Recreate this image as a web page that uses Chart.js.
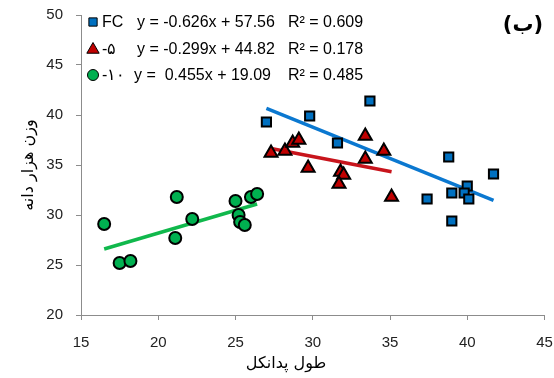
<!DOCTYPE html>
<html>
<head>
<meta charset="utf-8">
<script src="https://cdn.jsdelivr.net/npm/chart.js@4.4.1/dist/chart.umd.min.js"></script>
<style>
    html, body { margin: 0; padding: 0; background: #fff; }
    #wrap { width: 554px; height: 378px; position: relative; }
</style>
</head>
<body>
<div id="wrap"><canvas id="scatterChart"></canvas></div>
<script>
// data
const seriesNames = ['FC', '-۵', '-۱۰']
const fcX = [27.0, 29.8, 33.7, 31.6, 38.8, 41.7, 37.4, 39.0, 40.0, 39.8, 40.1, 39.0]
const fcY = [39.3, 39.9, 41.4, 37.2, 35.8, 34.1, 31.6, 32.2, 32.9, 32.2, 31.6, 29.4]
const d5X = [27.3, 28.2, 28.7, 29.1, 29.7, 31.8, 32.0, 31.7, 33.4, 33.4, 34.6, 35.1]
const d5Y = [36.2, 36.4, 37.2, 37.5, 34.7, 34.3, 34.0, 33.1, 37.9, 35.6, 36.4, 31.8]
const d10X = [16.5, 17.5, 18.2, 21.2, 21.1, 22.2, 25.0, 25.2, 25.3, 25.6, 26.0, 26.4]
const d10Y = [29.1, 25.2, 25.4, 31.8, 27.7, 29.6, 31.4, 30.0, 29.3, 29.0, 31.8, 32.1]
const slopes = [-0.626, -0.299, 0.455]
const intercepts = [57.56, 44.82, 19.09]
const r2 = ['0.609', '0.178', '0.485']
const xTicks = [15, 20, 25, 30, 35, 40, 45]
const yTicks = [20, 25, 30, 35, 40, 45, 50]

const xTitle = 'طول پدانکل'
const yTitle = 'وزن هزار دانه'
const panelLabel = '(ب)'

;(function () {
    const fills = ['#0070C0', '#C00000', '#00B050']
    const lineColors = ['#0B78D0', '#C8141C', '#10B84C']
    const styles = ['rect', 'triangle', 'circle']
    const radii = [6.5, 7.5, 6]
    const xs = [fcX, d5X, d10X]
    const ys = [fcY, d5Y, d10Y]

    const pts = (a, b) => a.map((v, i) => ({ x: v, y: b[i] }))

    function trend(i) {
        const lo = Math.min(...xs[i])
        const hi = Math.max(...xs[i])
        return [lo, hi].map((x) => ({ x: x, y: slopes[i] * x + intercepts[i] }))
    }

    const datasets = []
    // trend lines first so markers sit on top
    for (let i = 0; i < 3; i++) {
        datasets.push({
            type: 'line',
            label: 'trend' + i,
            data: trend(i),
            borderColor: lineColors[i],
            borderWidth: 3.5,
            pointRadius: 0,
            fill: false,
            order: 2
        })
    }
    for (let i = 0; i < 3; i++) {
        datasets.push({
            label: seriesNames[i],
            data: pts(xs[i], ys[i]),
            pointStyle: styles[i],
            pointRadius: radii[i],
            pointBackgroundColor: fills[i],
            pointBorderColor: '#000',
            pointBorderWidth: 2,
            order: 1
        })
    }

    function drawMarker(ctx, style, x, y, r) {
        if (style === 'rect') {
            const h = r * 0.75
            ctx.rect(x - h, y - h, 2 * h, 2 * h)
        } else if (style === 'triangle') {
            ctx.moveTo(x, y - r)
            ctx.lineTo(x + r * 0.95, y + r * 0.65)
            ctx.lineTo(x - r * 0.95, y + r * 0.65)
            ctx.closePath()
        } else {
            ctx.arc(x, y, r, 0, Math.PI * 2)
        }
    }

    // legend box, panel label and axis titles drawn on the canvas
    const extras = {
        id: 'extras',
        afterDraw(chart) {
            const ctx = chart.ctx
            const rows = [22, 49, 75]
            const mSize = [5.5, 6.5, 5.5]
            ctx.save()
            for (let i = 0; i < 3; i++) {
                ctx.fillStyle = fills[i]
                ctx.strokeStyle = '#000'
                ctx.lineWidth = 1
                ctx.beginPath()
                drawMarker(ctx, styles[i], 93, rows[i], mSize[i])
                ctx.fill()
                ctx.stroke()

                ctx.fillStyle = '#000'
                ctx.font = '16px "Liberation Sans", Arial, sans-serif'
                ctx.textBaseline = 'middle'
                ctx.textAlign = 'left'
                ctx.direction = 'ltr'
                ctx.fillText(seriesNames[i], 102, rows[i] + 1)
                const s = slopes[i]
                const eq = 'y = ' + (s < 0 ? '-' : ' ') + Math.abs(s).toFixed(3) +
                    'x + ' + intercepts[i].toFixed(2)
                ctx.fillText(eq, i === 2 ? 134 : 137, rows[i] + 1)
                ctx.fillText('R² = ' + r2[i], 288, rows[i] + 1)
            }

            ctx.font = 'bold 21px "DejaVu Sans", sans-serif'
            ctx.textAlign = 'center'
            ctx.fillText(panelLabel, 523, 26)

            ctx.font = '16px "DejaVu Sans", sans-serif'
            ctx.direction = 'rtl'
            ctx.fillText(xTitle, 286, 364)

            ctx.translate(29, 165)
            ctx.rotate(-Math.PI / 2)
            ctx.fillText(yTitle, 0, 0)
            ctx.restore()
        }
    }

    const axisGrid = {
        drawOnChartArea: false,
        drawTicks: true,
        tickLength: 5,
        color: '#8c8c8c'
    }

    const el = document.getElementById('scatterChart')
    new Chart(el, {
        type: 'scatter',
        data: { datasets: datasets },
        options: {
            responsive: true,
            maintainAspectRatio: false,
            animation: false,
            layout: { padding: { top: 15, right: 7, left: 0, bottom: 0 } },
            plugins: {
                legend: { display: false },
                tooltip: { enabled: false }
            },
            scales: {
                x: {
                    type: 'linear',
                    min: xTicks[0],
                    max: xTicks[xTicks.length - 1],
                    afterBuildTicks: (sc) => { sc.ticks = xTicks.map((v) => ({ value: v })) },
                    afterFit: (sc) => {
                        sc.height = 63
                        sc.paddingLeft = 0
                        sc.paddingRight = 0
                    },
                    grid: axisGrid,
                    border: { color: '#8c8c8c', width: 1 },
                    ticks: {
                        color: '#222',
                        padding: 14,
                        font: { family: '"Liberation Sans", Arial, sans-serif', size: 15 }
                    }
                },
                y: {
                    type: 'linear',
                    min: yTicks[0],
                    max: yTicks[yTicks.length - 1],
                    afterBuildTicks: (sc) => { sc.ticks = yTicks.map((v) => ({ value: v })) },
                    afterFit: (sc) => {
                        sc.width = 81
                        sc.paddingTop = 0
                        sc.paddingBottom = 0
                    },
                    grid: axisGrid,
                    border: { color: '#8c8c8c', width: 1 },
                    ticks: {
                        color: '#222',
                        padding: 13,
                        font: { family: '"Liberation Sans", Arial, sans-serif', size: 15 }
                    }
                }
            }
        },
        plugins: [extras]
    })
})()
</script>
</body>
</html>
